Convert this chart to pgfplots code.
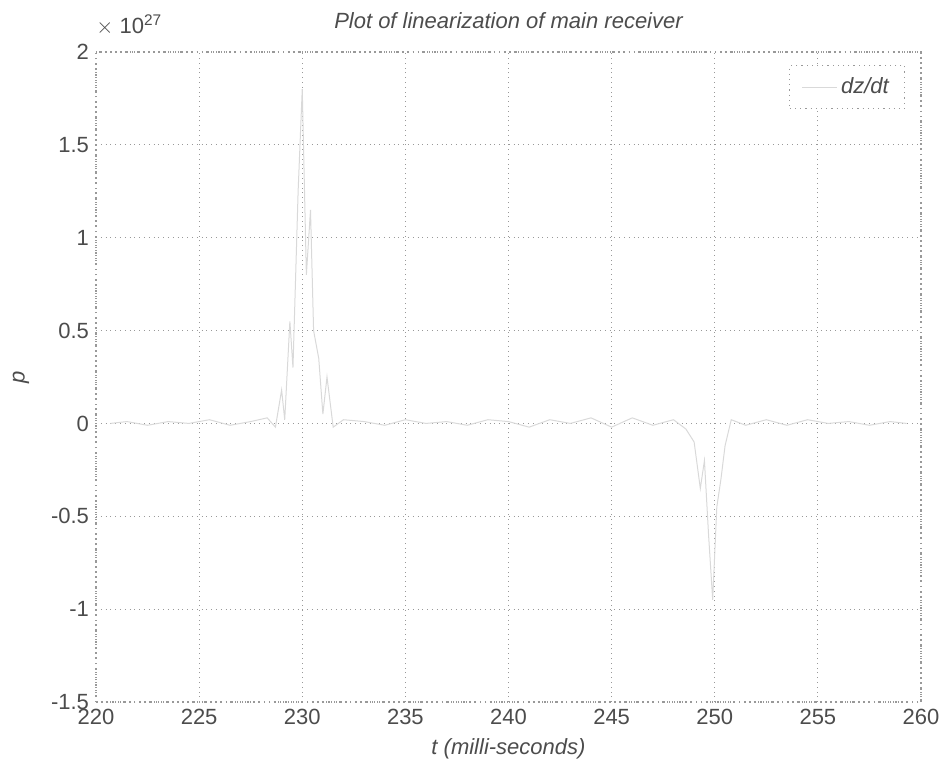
\documentclass[border=0pt]{standalone}
\usepackage{fontspec}
\setmainfont{Liberation Sans}
\usepackage{pgfplots}
\pgfplotsset{compat=1.18}

\begin{document}
\begin{tikzpicture}
\begin{axis}[
  scale only axis,
  width=412.5pt, height=325pt,
  xmin=220, xmax=260,
  ymin=-1.5, ymax=2,
  xtick={220,225,...,260},
  ytick={-1.5,-1,-0.5,0,0.5,1,1.5,2},
  /pgf/number format/assume math mode=true,
  yticklabel style={/pgf/number format/fixed},
  tick label style={font=\fontsize{11}{13}\selectfont, text=black!70},
  label style={font=\fontsize{11}{13}\selectfont\itshape, text=black!70},
  title style={font=\fontsize{11}{13}\selectfont\itshape, text=black!70, yshift=2pt},
  title={Plot of linearization of main receiver},
  xlabel={t (milli-seconds)},
  ylabel={p},
  ylabel style={yshift=4pt},
  grid=major,
  major grid style={gray!80, dotted, line width=0.6pt},
  axis line style={gray!80, dotted, line width=0.7pt},
  tick style={draw=none},
  legend style={at={(rel axis cs:0.981,0.98)}, anchor=north east,
    draw=gray!80, dotted, line width=0.6pt, font=\fontsize{11}{13}\selectfont\itshape,
    text=black!70, inner xsep=6pt, inner ysep=4pt},
  legend cell align=right,
  legend image post style={solid},
]
\addplot[gray!30, line width=0.5pt] coordinates {
(220.7,0) (221.5,0.01) (222.5,-0.01) (223.5,0.01) (224.5,0) (225.5,0.02) (226.5,-0.01)
(227.5,0.01) (228.3,0.03) (228.7,-0.02) (229.0,0.18) (229.15,0.02) (229.4,0.55)
(229.55,0.3) (229.8,1.25) (230.0,1.8) (230.2,0.8) (230.4,1.15) (230.55,0.5)
(230.8,0.35) (231.0,0.05) (231.2,0.25) (231.5,-0.02) (232,0.02) (233,0.01) (234,-0.01)
(235,0.02) (236,0) (237,0.01) (238,-0.01) (239,0.02) (240,0.01) (241,-0.02) (242,0.02)
(243,0) (244,0.03) (245,-0.02) (246,0.03) (247,-0.01) (248,0.02) (248.6,-0.03)
(249.0,-0.1) (249.3,-0.35) (249.5,-0.2) (249.7,-0.6) (249.9,-0.95) (250.1,-0.45)
(250.3,-0.3) (250.5,-0.12) (250.8,0.02) (251.5,-0.01) (252.5,0.02) (253.5,-0.01)
(254.5,0.02) (255.5,0) (256.5,0.01) (257.5,-0.01) (258.5,0.01) (259.3,0)
};
\addlegendentry{dz/dt}
\coordinate (sw) at (rel axis cs:0,0);
\coordinate (ne) at (rel axis cs:1,1);
\coordinate (nw) at (rel axis cs:0,1);
\end{axis}
\node[anchor=south west, font=\fontsize{11}{13}\selectfont, text=black!70,
  inner sep=0pt] at ([yshift=8pt]nw) {$\times$ 10\textsuperscript{27}};
\pgfresetboundingbox
\path (sw) ++(-48pt,-31.5pt) coordinate (a);
\path (ne) ++(11pt,26pt) coordinate (b);
\path[use as bounding box] (a) rectangle (b);
\end{tikzpicture}
\end{document}
